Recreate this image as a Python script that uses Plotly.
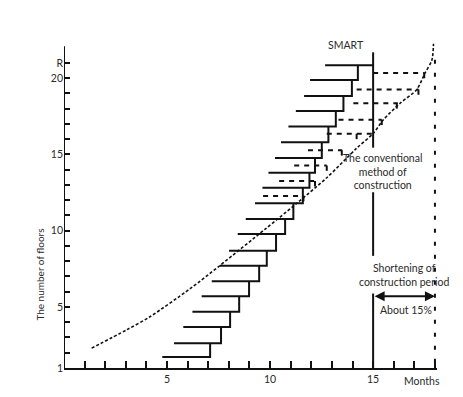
import plotly.graph_objects as go

# ---- data ----
# SMART staircase: floor level of each step, start month, end month
step_floor = [1.72, 2.63, 3.69, 4.69, 5.70, 6.68, 7.70, 8.68, 9.78, 10.76,
              11.80, 12.82, 13.80, 14.77, 15.79, 16.83, 17.85, 18.83, 19.87, 20.84]
step_start = [4.77, 5.34, 5.79, 6.23, 6.68, 7.17, 7.57, 8.01, 8.43, 8.82,
              9.27, 9.63, 9.92, 10.24, 10.53, 10.89, 11.25, 11.65, 11.94, 12.67]
step_end = [7.09, 7.62, 8.06, 8.50, 8.98, 9.47, 9.84, 10.29, 10.73, 11.13,
            11.59, 11.91, 12.18, 12.51, 12.83, 13.19, 13.56, 13.97, 14.26, 15.0]

# dashed (conventional) floors
dash_floor = [20.34, 19.26, 18.35, 17.27, 16.35, 15.27, 14.27, 13.25, 12.28]
dash_start = [15.0, 14.2, 14.04, 13.32, 12.75, 11.84, 11.17, 10.44, 9.66]
dash_end = [17.5, 17.2, 16.2, 15.42, 15.0, 13.5, 12.75, 12.2, 11.62]
tick_month = [17.48, 17.2, 16.15, 15.42, 14.2, 13.48, 12.75, 12.18, 11.62]
tick_len = 0.35

# conventional method curve (month, floor)
curve_month = [1.34, 3.04, 4.17, 6.12, 7.57, 9.76, 11.3, 12.75, 14.2, 15.02,
               15.5, 16.31, 17.12, 17.52, 17.85, 17.93]
curve_floor = [2.30, 3.50, 4.36, 6.2, 7.72, 10.1, 11.8, 13.47, 15.4, 16.4,
               17.27, 18.35, 19.26, 20.34, 21.17, 22.25]

# SMART completion line (month 15) segments, broken by text
smart_month = 15
smart_top = [21.69, 12.52, 5.88]
smart_bottom = [15.44, 8.35, 1.0]

# conventional completion (month 18)
conv_month = 18
conv_top = 21.2
conv_bottom = 1.0

arrow_floor = 5.70

x_tickvals = list(range(1, 19))
x_ticktext = ["5" if v == 5 else "10" if v == 10 else "15" if v == 15 else "" for v in x_tickvals]
y_tickvals = list(range(1, 22))
y_ticktext = ["1" if v == 1 else "R" if v == 21 else (str(v) if v % 5 == 0 else "") for v in y_tickvals]

FONT = "Lato"
TXT = "#2a2a2a"

fig = go.Figure()

# staircase
sx, sy = [], []
for k in range(len(step_floor)):
    sx += [step_start[k], step_end[k]]
    sy += [step_floor[k], step_floor[k]]
    if k + 1 < len(step_floor):
        sx += [step_end[k]]
        sy += [step_floor[k + 1]]
    sx.append(None)
    sy.append(None)
fig.add_trace(go.Scatter(x=sx, y=sy, mode="lines",
                         line=dict(color="#111", width=2), hoverinfo="skip"))

# dashed horizontals
dx, dy = [], []
for k in range(len(dash_floor)):
    dx += [dash_start[k], dash_end[k], None]
    dy += [dash_floor[k], dash_floor[k], None]
fig.add_trace(go.Scatter(x=dx, y=dy, mode="lines",
                         line=dict(color="#111", width=2, dash="5px,5px"), hoverinfo="skip"))

# little dashed drops
tx, ty = [], []
for k in range(len(dash_floor)):
    tx += [tick_month[k], tick_month[k], None]
    ty += [dash_floor[k], dash_floor[k] - tick_len, None]
fig.add_trace(go.Scatter(x=tx, y=ty, mode="lines",
                         line=dict(color="#111", width=2), hoverinfo="skip"))

# conventional curve
fig.add_trace(go.Scatter(x=curve_month, y=curve_floor, mode="lines",
                         line=dict(color="#111", width=1.6, dash="3px,2px", shape="spline", smoothing=0.8),
                         hoverinfo="skip"))

# SMART vertical
vx, vy = [], []
for t, b in zip(smart_top, smart_bottom):
    vx += [smart_month, smart_month, None]
    vy += [t, b, None]
fig.add_trace(go.Scatter(x=vx, y=vy, mode="lines",
                         line=dict(color="#111", width=2), hoverinfo="skip"))

# conventional vertical at 18 months
fig.add_trace(go.Scatter(x=[conv_month, conv_month], y=[conv_top, conv_bottom], mode="lines",
                         line=dict(color="#111", width=2, dash="4px,9px"), hoverinfo="skip"))

# y axis line
fig.add_shape(type="line", xref="x", yref="y", x0=0, x1=0, y0=1, y1=22.08,
              line=dict(color="#111", width=2))

ann_font = dict(family=FONT, size=10.5, color=TXT)
fig.add_annotation(x=13.66, y=22.15, text="SMART", showarrow=False, font=ann_font)
fig.add_annotation(x=15.44, y=13.88, text="The conventional<br>method of<br>construction",
                   showarrow=False, font=ann_font, align="center")
fig.add_annotation(x=16.5, y=7.10, text="Shortening of<br>construction period",
                   showarrow=False, font=ann_font, align="center")
fig.add_annotation(x=16.6, y=4.79, text="About 15%", showarrow=False, font=ann_font)
fig.add_annotation(x=17.36, y=1, yshift=-13, text="Months", showarrow=False, font=ann_font)
fig.add_annotation(x=0, y=7.12, xshift=-24, text="The number of floors", textangle=-90,
                   showarrow=False, font=dict(family=FONT, size=10, color=TXT))

# double arrow
fig.add_annotation(x=conv_month, y=arrow_floor, ax=smart_month, ay=arrow_floor,
                   xref="x", yref="y", axref="x", ayref="y", text="", showarrow=True,
                   arrowhead=2, startarrowhead=2, arrowside="end+start",
                   arrowsize=1, arrowwidth=2, arrowcolor="#111", standoff=0, startstandoff=0)

fig.update_layout(
    width=463, height=397,
    margin=dict(l=64, r=26, t=43, b=27),
    paper_bgcolor="white", plot_bgcolor="white",
    showlegend=False,
    hovermode=False,
    xaxis=dict(range=[0, 18.1], tickvals=x_tickvals, ticktext=x_ticktext,
               ticks="inside", ticklen=7, tickwidth=2, tickcolor="#111",
               showline=True, linewidth=2, linecolor="#111",
               showgrid=False, zeroline=False,
               tickfont=dict(family=FONT, size=10.5, color=TXT)),
    yaxis=dict(range=[1, 22.3], tickvals=y_tickvals, ticktext=y_ticktext,
               ticks="inside", ticklen=6, tickwidth=2, tickcolor="#111",
               showline=False, showgrid=False, zeroline=False,
               tickfont=dict(family=FONT, size=10.5, color=TXT)),
)

fig.write_html("out.html", config={"displayModeBar": False, "staticPlot": True},
               post_script="document.body.style.margin='0';document.body.style.overflow='hidden';")
